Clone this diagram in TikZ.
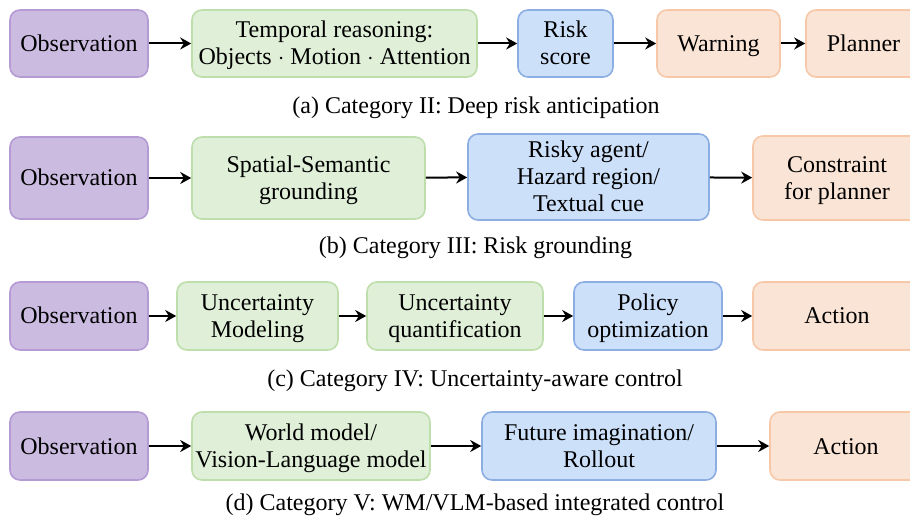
\documentclass[tikz,border=0pt]{standalone}
\usepackage{fontspec}
\setmainfont{Liberation Serif}
\usetikzlibrary{arrows.meta}
\definecolor{obsfill}{RGB}{203,187,225}
\definecolor{obsline}{RGB}{180,155,212}
\definecolor{grnfill}{RGB}{224,239,216}
\definecolor{grnline}{RGB}{190,222,172}
\definecolor{blufill}{RGB}{204,224,250}
\definecolor{bluline}{RGB}{140,174,226}
\definecolor{orgfill}{RGB}{250,228,214}
\definecolor{orgline}{RGB}{246,200,168}
\tikzset{
  box/.style={draw, line width=0.8pt, rounded corners=5pt, align=center,
    inner sep=0pt, font=\fontsize{12}{13.5}\selectfont,
    text height=8pt, text depth=0pt},
  two/.style={text height=21.5pt},
  three/.style={text height=35pt},
  obs/.style={box, fill=obsfill, draw=obsline},
  grn/.style={box, fill=grnfill, draw=grnline},
  blu/.style={box, fill=blufill, draw=bluline},
  org/.style={box, fill=orgfill, draw=orgline},
  flow/.style={-{Stealth[length=5.5pt,width=6pt]}, line width=1pt},
  caption/.style={font=\fontsize{12}{14}\selectfont, anchor=base}
}
\begin{document}
\begin{tikzpicture}[x=0.5pt,y=-0.5pt]
\useasboundingbox (0,0) rectangle (910,523);
\clip (0,0) rectangle (910,523);
\fill[white] (0,0) rectangle (910,523);

% (a) deep risk anticipation
\node[obs, minimum width=69pt, minimum height=33.5pt] (a1) at (79,43.5) {Observation};
\node[grn, two, minimum width=142.5pt, minimum height=33.5pt] (a2) at (334.5,43.5) {Temporal reasoning:\\Objects $\cdot$ Motion $\cdot$ Attention};
\node[blu, two, minimum width=47.5pt, minimum height=33.5pt] (a3) at (565.5,43.5) {Risk\\score};
\node[org, minimum width=61.5pt, minimum height=33.5pt] (a4) at (718.5,43.5) {Warning};
\node[org, minimum width=57.5pt, minimum height=33.5pt] (a5) at (863.5,43.5) {Planner};
\draw[flow] (a1) -- (a2);
\draw[flow] (a2) -- (a3);
\draw[flow] (a3) -- (a4);
\draw[flow] (a4) -- (a5);
\node[caption] (ca) at (476,114) {(a) Category II: Deep risk anticipation};

% (b) risk grounding
\node[obs, minimum width=69pt, minimum height=41pt] (b1) at (79,178) {Observation};
\node[grn, two, minimum width=116.5pt, minimum height=41pt] (b2) at (308.5,178) {Spatial-Semantic\\grounding};
\node[blu, three, minimum width=120.5pt, minimum height=43pt] (b3) at (588.5,177) {Risky agent/\\Hazard region/\\Textual cue};
\node[org, two, minimum width=84pt, minimum height=42pt] (b4) at (837,178) {Constraint\\for planner};
\draw[flow] (b1) -- (b2);
\draw[flow] (b2) -- (b3);
\draw[flow] (b3) -- (b4);
\node[caption] (cb) at (475.5,254) {(b) Category III: Risk grounding};

% (c) uncertainty-aware control
\node[obs, minimum width=69pt, minimum height=34pt] (c1) at (79,316) {Observation};
\node[grn, two, minimum width=80.5pt, minimum height=34pt] (c2) at (257.5,316) {Uncertainty\\Modeling};
\node[grn, two, minimum width=88pt, minimum height=34pt] (c3) at (455,316) {Uncertainty\\quantification};
\node[blu, two, minimum width=74pt, minimum height=34pt] (c4) at (648,316) {Policy\\optimization};
\node[org, minimum width=84pt, minimum height=34pt] (c5) at (837,316) {Action};
\draw[flow] (c1) -- (c2);
\draw[flow] (c2) -- (c3);
\draw[flow] (c3) -- (c4);
\draw[flow] (c4) -- (c5);
\node[caption] (cc) at (475,387) {(c) Category IV: Uncertainty-aware control};

% (d) WM/VLM-based integrated control
\node[obs, minimum width=69pt, minimum height=34pt] (d1) at (79,446) {Observation};
\node[grn, two, minimum width=119pt, minimum height=34pt] (d2) at (311,446) {World model/\\Vision-Language model};
\node[blu, two, minimum width=117pt, minimum height=34pt] (d3) at (599,446) {Future imagination/\\Rollout};
\node[org, minimum width=76pt, minimum height=34pt] (d4) at (846,446) {Action};
\draw[flow] (d1) -- (d2);
\draw[flow] (d2) -- (d3);
\draw[flow] (d3) -- (d4);
\node[caption] (cd) at (475,510) {(d) Category V: WM/VLM-based integrated control};
\end{tikzpicture}
\end{document}
